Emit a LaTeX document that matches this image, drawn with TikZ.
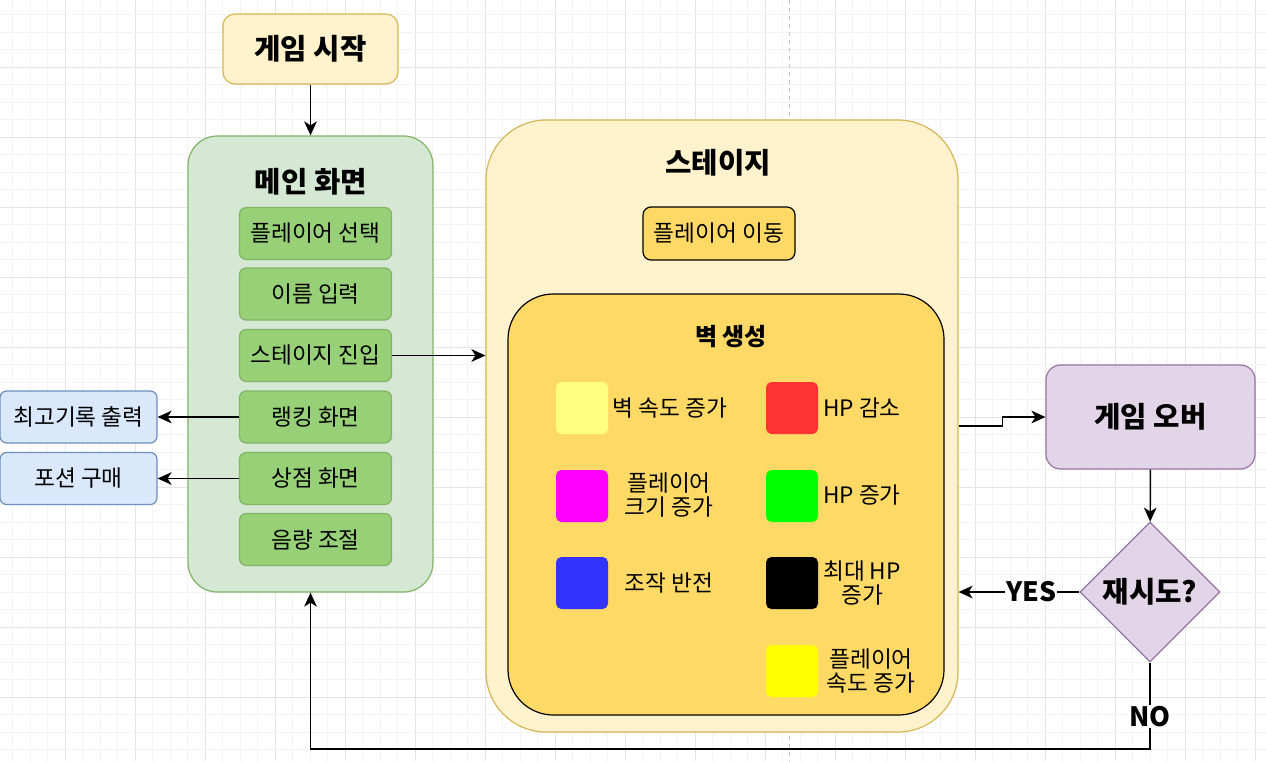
\documentclass[tikz,border=0pt]{standalone}
\usepackage{fontspec}
\setmainfont{Noto Sans CJK KR}
\usetikzlibrary{arrows.meta,shapes.geometric,positioning}

\definecolor{startfill}{HTML}{FFF2CC}
\definecolor{startline}{HTML}{D6B656}
\definecolor{mainfill}{HTML}{D5E8D4}
\definecolor{mainline}{HTML}{82B366}
\definecolor{itemfill}{HTML}{97D077}
\definecolor{sidefill}{HTML}{DAE8FC}
\definecolor{sideline}{HTML}{6C8EBF}
\definecolor{wallfill}{HTML}{FFD966}
\definecolor{overfill}{HTML}{E1D5E7}
\definecolor{overline}{HTML}{9673A6}
\definecolor{gridmajor}{HTML}{E4E4E4}
\definecolor{gridminor}{HTML}{F3F3F3}

\begin{document}
\begin{tikzpicture}[x=0.75pt,y=-0.75pt,
    title/.style={font=\fontsize{21.5}{24}\selectfont\bfseries},
    itembox/.style={draw=mainline, fill=itemfill, rounded corners=5pt, line width=0.9pt,
        minimum width=114pt, minimum height=39pt, inner sep=0pt, font=\fontsize{17}{20}\selectfont},
    sidebox/.style={draw=sideline, fill=sidefill, rounded corners=5pt, line width=0.9pt,
        minimum width=117.75pt, minimum height=39pt, inner sep=0pt, font=\fontsize{17}{20}\selectfont},
    wallitem/.style={rounded corners=4pt, minimum size=39pt, inner sep=0pt},
    walltext/.style={align=center, inner sep=0pt, font=\fontsize{17}{18.5}\selectfont},
    flow/.style={-{Stealth[length=10.5pt,width=9.5pt,inset=3pt]}, line width=1.1pt},
    answer/.style={fill=white, inner sep=1pt, font=\fontsize{20}{22}\selectfont\bfseries}]

    \useasboundingbox (0,0) rectangle (1266,761);

    % Griglia di sfondo
    \foreach \gx in {-5,65,...,1266} {
        \foreach \k in {17.5,35,52.5}
            \draw[gridminor, line width=0.6pt] (\gx+\k,0) -- (\gx+\k,761);
        \draw[gridmajor, line width=0.6pt] (\gx,0) -- (\gx,761);
    }
    \foreach \gy in {-3,67,...,761} {
        \foreach \k in {17.5,35,52.5}
            \draw[gridminor, line width=0.6pt] (0,\gy+\k) -- (1266,\gy+\k);
        \draw[gridmajor, line width=0.6pt] (0,\gy) -- (1266,\gy);
    }
    \draw[gray!45, dashed, line width=0.6pt] (789,0) -- (789,761);

    % Inizio e menu principale
    \node[draw=startline, fill=startfill, rounded corners=9pt, line width=0.9pt,
        minimum width=131.25pt, minimum height=52.5pt, title] (start) at (310.5,49) {게임 시작};
    \node[draw=mainline, fill=mainfill, rounded corners=22pt, line width=0.9pt,
        minimum width=183.75pt, minimum height=342pt] (main) at (310.5,364) {};
    \node[title] (maintitle) at (311,182) {메인 화면};

    \node[itembox] (select) at (315.5,233.5) {플레이어 선택};
    \node[itembox] (name)   at (315.5,294)   {이름 입력};
    \node[itembox] (enter)  at (315.5,355.5) {스테이지 진입};
    \node[itembox] (rank)   at (315.5,417)   {랭킹 화면};
    \node[itembox] (shop)   at (315.5,478.5) {상점 화면};
    \node[itembox] (volume) at (315.5,539.5) {음량 조절};

    \node[sidebox] (best)   at (78.5,417)   {최고기록 출력};
    \node[sidebox] (potion) at (78.5,478.5) {포션 구매};

    % Stage
    \node[draw=startline, fill=startfill, rounded corners=45pt, line width=0.9pt,
        minimum width=354pt, minimum height=459pt] (stage) at (722,426) {};
    \node[title] (stagetitle) at (718,163) {스테이지};
    \node[draw=black, fill=wallfill, rounded corners=6pt, line width=0.9pt,
        minimum width=114pt, minimum height=39.75pt, inner sep=0pt,
        font=\fontsize{17}{20}\selectfont] (move) at (719,233.5) {플레이어 이동};

    \node[draw=black, fill=wallfill, rounded corners=34pt, line width=0.9pt,
        minimum width=327pt, minimum height=315.75pt] (wall) at (726,504.5) {};
    \node[font=\fontsize{18}{20}\selectfont\bfseries] (walltitle) at (731,337) {벽 생성};

    % Oggetti del muro
    \node[wallitem, fill={rgb,255:red,255;green,255;blue,128}] (wspeed) at (582,408) {};
    \node[wallitem, fill={rgb,255:red,255;green,0;blue,255}]   (psize)  at (582,496) {};
    \node[wallitem, fill={rgb,255:red,51;green,51;blue,255}]   (invert) at (582,583) {};
    \node[wallitem, fill={rgb,255:red,255;green,51;blue,51}]   (hpdown) at (792,408) {};
    \node[wallitem, fill={rgb,255:red,0;green,255;blue,0}]     (hpup)   at (792,496) {};
    \node[wallitem, fill=black]                                (hpmax)  at (792,583) {};
    \node[wallitem, fill={rgb,255:red,255;green,255;blue,0}]   (pspeed) at (792,671) {};

    \node[walltext] (wspeedtxt) at (670,408) {벽 속도 증가};
    \node[walltext] (psizetxt)  at (669,495) {플레이어\\크기 증가};
    \node[walltext] (inverttxt) at (669,583) {조작 반전};
    \node[walltext] (hpdowntxt) at (862,408) {HP 감소};
    \node[walltext] (hpuptxt)   at (862,495) {HP 증가};
    \node[walltext] (hpmaxtxt)  at (862,583) {최대 HP\\증가};
    \node[walltext] (pspeedtxt) at (871,671) {플레이어\\속도 증가};

    % Fine partita
    \node[draw=overline, fill=overfill, rounded corners=11pt, line width=0.9pt,
        minimum width=156.75pt, minimum height=78pt, title] (over) at (1150.5,417) {게임 오버};
    \node[diamond, draw=overline, fill=overfill, line width=0.9pt, minimum width=105pt,
        minimum height=105pt, inner sep=0pt, title] (retry) at (1150,592) {재시도?};
    \coordinate (nobend) at (0,749);

    % Collegamenti
    \draw[flow] (start) -- (main);
    \draw[flow] (enter.east) -- (enter.east -| stage.west);
    \draw[flow] (rank) -- (best);
    \draw[flow] (shop) -- (potion);
    \draw[flow] (stage.east) -- ++(44,0) |- (over.west);
    \draw[flow] (over) -- (retry);
    \draw[flow] (retry.west) -- node[answer, pos=0.4] {YES} (retry.west -| stage.east);
    \draw[flow] (retry.south) -- node[answer, pos=0.62] {NO} (retry.south |- nobend) -| (main.south);
\end{tikzpicture}
\end{document}
